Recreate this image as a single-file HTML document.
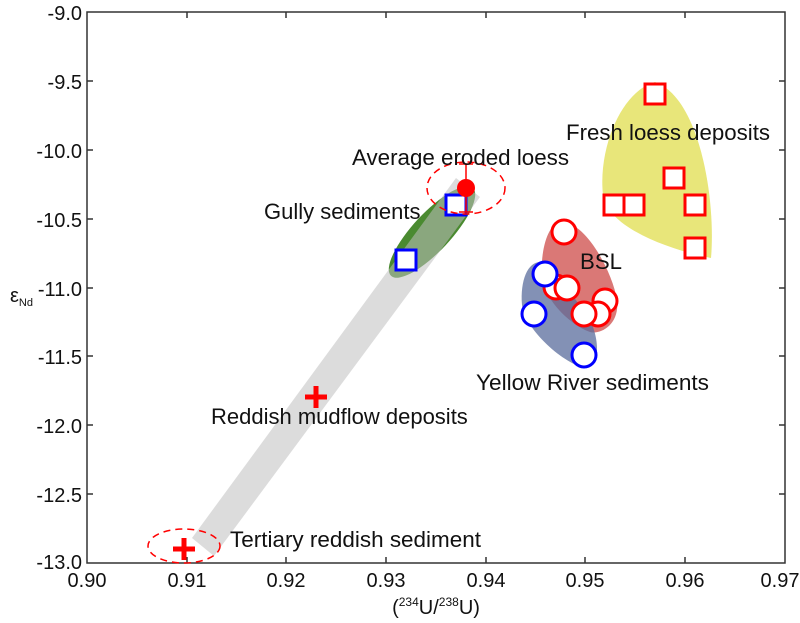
<!DOCTYPE html>
<html><head><meta charset="utf-8"><style>body{margin:0;background:#fff}svg{display:block}text{font-family:"Liberation Sans",sans-serif;fill:#111}</style></head><body>
<svg width="800" height="623" viewBox="0 0 800 623">
<path d="M655,82 C700,98 716,200 711,258 C670,250 608,228 603,195 C598,150 620,92 655,82 Z" fill="#e8e67a"/>
<path d="M562,222 C585,222 612,270 617,300 C620,325 600,335 590,332 C570,325 545,300 542,278 C540,250 548,222 562,222 Z" fill="#d4605e" fill-opacity="0.85"/>
<path d="M540,262 C555,265 575,300 590,320 C600,340 600,368 586,368 C565,365 525,330 522,305 C520,280 528,262 540,262 Z" fill="#5a6c9c" fill-opacity="0.75"/>
<ellipse cx="432" cy="232" rx="60" ry="19" transform="rotate(-47 432 232)" fill="#4a8a30"/>
<polygon points="192,538 214,556 480,197 456,178" fill="#c0c0c0" fill-opacity="0.55"/>
<rect x="87" y="12" width="698" height="551" fill="none" stroke="#333" stroke-width="1.5"/>
<g stroke="#333" stroke-width="1.5">
<line x1="87" y1="81" x2="93" y2="81"/><line x1="87" y1="150" x2="93" y2="150"/><line x1="87" y1="219" x2="93" y2="219"/><line x1="87" y1="288" x2="93" y2="288"/><line x1="87" y1="356" x2="93" y2="356"/><line x1="87" y1="425" x2="93" y2="425"/><line x1="87" y1="494" x2="93" y2="494"/>
<line x1="785" y1="81" x2="779" y2="81"/><line x1="785" y1="150" x2="779" y2="150"/><line x1="785" y1="219" x2="779" y2="219"/><line x1="785" y1="288" x2="779" y2="288"/><line x1="785" y1="356" x2="779" y2="356"/><line x1="785" y1="425" x2="779" y2="425"/><line x1="785" y1="494" x2="779" y2="494"/>
<line x1="187" y1="563" x2="187" y2="557"/><line x1="286" y1="563" x2="286" y2="557"/><line x1="386" y1="563" x2="386" y2="557"/><line x1="486" y1="563" x2="486" y2="557"/><line x1="585" y1="563" x2="585" y2="557"/><line x1="685" y1="563" x2="685" y2="557"/>
<line x1="187" y1="12" x2="187" y2="18"/><line x1="286" y1="12" x2="286" y2="18"/><line x1="386" y1="12" x2="386" y2="18"/><line x1="486" y1="12" x2="486" y2="18"/><line x1="585" y1="12" x2="585" y2="18"/><line x1="685" y1="12" x2="685" y2="18"/>
</g>
<g font-size="20" text-anchor="end">
<text x="82" y="20">-9.0</text><text x="82" y="89">-9.5</text><text x="82" y="158">-10.0</text><text x="82" y="227">-10.5</text><text x="82" y="296">-11.0</text><text x="82" y="364">-11.5</text><text x="82" y="433">-12.0</text><text x="82" y="502">-12.5</text><text x="82" y="569">-13.0</text>
</g>
<g font-size="20" text-anchor="middle">
<text x="87" y="587">0.90</text><text x="187" y="587">0.91</text><text x="286" y="587">0.92</text><text x="386" y="587">0.93</text><text x="486" y="587">0.94</text><text x="585" y="587">0.95</text><text x="685" y="587">0.96</text><text x="780" y="587">0.97</text>
<text x="436" y="614">(<tspan font-size="12" dy="-8">234</tspan><tspan dy="8">U/</tspan><tspan font-size="12" dy="-8">238</tspan><tspan dy="8">U)</tspan></text>
</g>
<text x="10" y="302" font-size="20">ε<tspan font-size="11" dy="4">Nd</tspan></text>
<g fill="#fff" stroke="#f00" stroke-width="3">
<rect x="645" y="84" width="20" height="20"/><rect x="664" y="168" width="20" height="20"/><rect x="604" y="195" width="20" height="20"/><rect x="624" y="195" width="20" height="20"/><rect x="685" y="195" width="20" height="20"/><rect x="685" y="238" width="20" height="20"/>
</g>
<g fill="#fff" stroke="#f00" stroke-width="3">
<circle cx="564" cy="232" r="12"/><circle cx="556" cy="287" r="12"/><circle cx="567" cy="288" r="12"/><circle cx="605" cy="301" r="12"/><circle cx="598" cy="314" r="12"/><circle cx="584" cy="314" r="12"/>
</g>
<g fill="#fff" stroke="#00f" stroke-width="3">
<circle cx="545" cy="274" r="12"/><circle cx="534" cy="314" r="12"/><circle cx="584" cy="355" r="12"/>
<rect x="446" y="195" width="20" height="20"/><rect x="396" y="250" width="20" height="20"/>
</g>
<ellipse cx="466" cy="188" rx="39" ry="26" fill="none" stroke="#f00" stroke-width="1.5" stroke-dasharray="7,5"/>
<ellipse cx="184" cy="546" rx="36" ry="17" fill="none" stroke="#f00" stroke-width="1.5" stroke-dasharray="7,5"/>
<g stroke="#f00" stroke-width="1.5"><line x1="466" y1="164" x2="466" y2="212"/><line x1="459" y1="164" x2="473" y2="164"/><line x1="459" y1="212" x2="473" y2="212"/></g>
<circle cx="466" cy="188" r="9" fill="#f00"/>
<g stroke="#f00" stroke-width="5"><line x1="305" y1="397" x2="327" y2="397"/><line x1="316" y1="386" x2="316" y2="408"/><line x1="173" y1="549" x2="195" y2="549"/><line x1="184" y1="538" x2="184" y2="560"/></g>
<g font-size="22">
<text x="566" y="140" textLength="204" lengthAdjust="spacingAndGlyphs">Fresh loess deposits</text>
<text x="352" y="165" textLength="217" lengthAdjust="spacingAndGlyphs">Average eroded loess</text>
<text x="264" y="219">Gully sediments</text>
<text x="580" y="269" textLength="42" lengthAdjust="spacingAndGlyphs">BSL</text>
<text x="476" y="390" textLength="233" lengthAdjust="spacingAndGlyphs">Yellow River sediments</text>
<text x="211" y="424">Reddish mudflow deposits</text>
<text x="230" y="547" textLength="251" lengthAdjust="spacingAndGlyphs">Tertiary reddish sediment</text>
</g>
</svg>
</body></html>
